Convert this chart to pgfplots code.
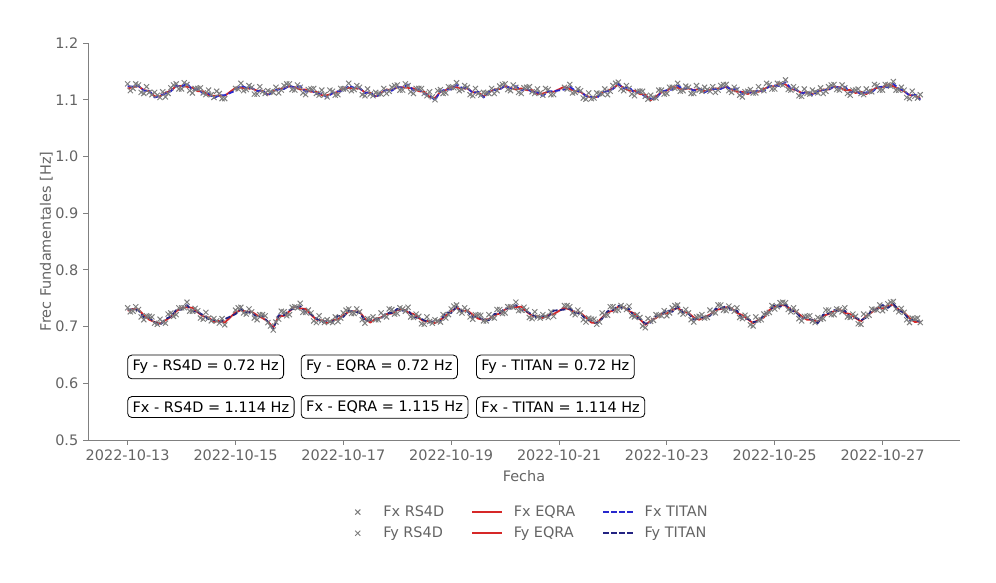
\documentclass[border=0pt]{standalone}
\usepackage{fontspec}
\setmainfont{DejaVu Sans}
\usepackage{pgfplots}
\pgfplotsset{compat=1.18}

\definecolor{txtgray}{RGB}{100,100,100}
\definecolor{spinegray}{RGB}{128,128,128}
\definecolor{markgray}{RGB}{125,125,125}
\definecolor{eqrared}{RGB}{214,40,40}
\definecolor{titanx}{RGB}{40,40,205}
\definecolor{titany}{RGB}{35,35,130}

\pgfplotsset{
  rs4d/.style={only marks, mark=x, mark size=2.6pt, color=markgray, mark options={line width=0.7pt},
    legend image code/.code={\path[draw=none,fill=none] (0pt,-2pt) rectangle (21.6pt,2pt);
      \draw[mark repeat=2,mark phase=2,##1] plot coordinates {(0pt,0pt)(10.8pt,0pt)(21.6pt,0pt)};}},
  eqra/.style={no markers, color=eqrared, line width=1.3pt, line join=round},
  titan/.style={no markers, color=#1, line width=1.3pt, dash pattern=on 4pt off 1.7pt, line join=round},
}
\tikzset{
  statbox/.style={draw=black, fill=white, rounded corners=3pt, inner sep=3.6pt, anchor=west, text=black, line width=0.6pt},
}

\begin{document}
\begin{tikzpicture}[font=\fontsize{10.4}{12.5}\selectfont]
\useasboundingbox (-63.4pt,-103pt) rectangle (653.8pt,316.8pt);
\begin{axis}[
  at={(0,0)}, anchor=south west,
  scale only axis,
  width=627.8pt, height=285.8pt,
  xmin=-0.735, xmax=15.435,
  ymin=0.5, ymax=1.2,
  axis x line*=bottom, axis y line*=left,
  axis line style={spinegray, line width=0.6pt},
  tick style={spinegray, line width=0.6pt},
  tick align=outside, major tick length=3.5pt,
  xtick={0,2,4,6,8,10,12,14},
  xticklabels={2022-10-13,2022-10-15,2022-10-17,2022-10-19,2022-10-21,2022-10-23,2022-10-25,2022-10-27},
  ytick={0.5,0.6,0.7,0.8,0.9,1.0,1.1,1.2},
  yticklabel style={/pgf/number format/.cd, fixed, fixed zerofill, precision=1, assume math mode=true},
  ticklabel style={text=txtgray},
  xlabel={Fecha}, ylabel={Frec Fundamentales [Hz]},
  label style={text=txtgray},
  ylabel style={yshift=-5pt},
  legend columns=3,
  legend style={at={(0.503,-0.151)}, anchor=north, draw=none, fill=none, text=txtgray,
    /tikz/every even column/.append style={column sep=17.6pt},
    /tikz/every odd column/.append style={column sep=5.6pt},
    row sep=2pt},
  legend cell align=left,
  legend image code/.code={\draw[mark repeat=2,mark phase=2,#1] plot coordinates {(0pt,0pt)(10.8pt,0pt)(21.6pt,0pt)};},
  clip=false,
]

% ---------- Fx ----------
\addplot[rs4d] coordinates {
(0,1.128)(0.05,1.116)(0.1,1.120)(0.15,1.128)(0.2,1.126)(0.25,1.113)(0.3,1.111)(0.35,1.123)(0.4,1.113)(0.45,1.109)
(0.5,1.113)(0.55,1.108)(0.6,1.104)(0.65,1.114)(0.7,1.105)(0.75,1.111)(0.8,1.121)(0.85,1.126)(0.9,1.128)(0.95,1.119)
(1.0,1.119)(1.05,1.130)(1.1,1.127)(1.15,1.116)(1.2,1.112)(1.25,1.120)(1.3,1.120)(1.35,1.121)(1.4,1.112)(1.45,1.109)
(1.5,1.117)(1.55,1.109)(1.6,1.104)(1.65,1.115)(1.7,1.111)(1.75,1.102)(1.8,1.102)
(2.0,1.120)(2.05,1.119)(2.1,1.129)(2.15,1.116)(2.2,1.118)(2.25,1.125)(2.3,1.122)(2.35,1.110)(2.4,1.110)(2.45,1.123)
(2.5,1.114)(2.55,1.111)(2.6,1.116)(2.65,1.114)(2.7,1.113)(2.75,1.122)(2.8,1.112)(2.85,1.117)(2.9,1.125)(2.95,1.128)
(3.0,1.128)(3.05,1.118)(3.1,1.117)(3.15,1.126)(3.2,1.122)(3.25,1.112)(3.3,1.109)(3.35,1.118)(3.4,1.119)(3.45,1.120)
(3.5,1.111)(3.55,1.108)(3.6,1.117)(3.65,1.109)(3.7,1.105)(3.75,1.117)(3.8,1.115)(3.85,1.108)(3.9,1.109)(3.95,1.120)
(4.0,1.119)(4.05,1.119)(4.1,1.129)(4.15,1.116)(4.2,1.118)(4.25,1.125)(4.3,1.122)(4.35,1.109)(4.4,1.107)(4.45,1.119)
(4.5,1.110)(4.55,1.107)(4.6,1.113)(4.65,1.111)(4.7,1.110)(4.75,1.120)(4.8,1.111)(4.85,1.115)(4.9,1.122)(4.95,1.125)
(5.0,1.126)(5.05,1.117)(5.1,1.117)(5.15,1.128)(5.2,1.125)(5.25,1.114)(5.3,1.111)(5.35,1.120)(5.4,1.120)(5.45,1.120)
(5.5,1.111)(5.55,1.107)(5.6,1.114)(5.65,1.105)(5.7,1.100)(5.75,1.116)(5.8,1.118)(5.85,1.111)(5.9,1.112)(5.95,1.123)
(6.0,1.122)(6.05,1.121)(6.1,1.130)(6.15,1.116)(6.2,1.118)(6.25,1.125)(6.3,1.122)(6.35,1.109)(6.4,1.107)(6.45,1.120)
(6.5,1.111)(6.55,1.108)(6.6,1.113)(6.65,1.112)(6.7,1.111)(6.75,1.120)(6.8,1.111)(6.85,1.116)(6.9,1.124)(6.95,1.127)
(7.0,1.128)(7.05,1.118)(7.1,1.116)(7.15,1.126)(7.2,1.122)(7.25,1.113)(7.3,1.111)(7.35,1.121)(7.4,1.122)(7.45,1.123)
(7.5,1.114)(7.55,1.111)(7.6,1.119)(7.65,1.112)(7.7,1.108)(7.75,1.120)(7.8,1.118)(7.85,1.109)(7.9,1.109)
(8.1,1.122)(8.15,1.119)(8.2,1.127)(8.25,1.112)(8.3,1.113)(8.35,1.119)(8.4,1.116)(8.45,1.103)(8.5,1.101)(8.55,1.112)
(8.6,1.102)(8.65,1.103)(8.7,1.112)(8.75,1.111)(8.8,1.110)(8.85,1.119)(8.9,1.109)(8.95,1.115)(9.0,1.125)(9.05,1.129)
(9.1,1.131)(9.15,1.119)(9.2,1.116)(9.25,1.125)(9.3,1.120)(9.35,1.110)(9.4,1.107)(9.45,1.115)(9.5,1.115)(9.55,1.115)
(9.6,1.106)(9.65,1.101)(9.7,1.108)(9.75,1.104)(9.8,1.103)(9.85,1.117)(9.9,1.117)(9.95,1.110)(10.0,1.111)(10.05,1.122)
(10.1,1.122)(10.15,1.120)(10.2,1.129)(10.25,1.115)(10.3,1.116)(10.35,1.124)(10.4,1.122)(10.45,1.111)(10.5,1.111)(10.55,1.125)
(10.6,1.117)(10.65,1.115)(10.7,1.122)(10.75,1.118)(10.8,1.115)(10.85,1.123)(10.9,1.113)(10.95,1.117)(11.0,1.125)(11.05,1.127)
(11.1,1.127)(11.15,1.116)(11.2,1.113)(11.25,1.122)(11.3,1.118)(11.35,1.108)(11.4,1.105)(11.45,1.114)(11.5,1.115)(11.55,1.118)
(11.6,1.112)(11.65,1.112)(11.7,1.123)(11.75,1.118)(11.8,1.116)(11.85,1.129)(11.9,1.127)(11.95,1.119)(12.0,1.119)(12.05,1.129)
(12.1,1.128)(12.15,1.126)(12.2,1.135)(12.25,1.118)(12.3,1.117)(12.35,1.123)(12.4,1.119)(12.45,1.107)(12.5,1.106)(12.55,1.119)
(12.6,1.111)(12.65,1.110)(12.7,1.117)(12.75,1.114)(12.8,1.112)(12.85,1.121)(12.9,1.111)(12.95,1.115)(13.0,1.123)(13.05,1.126)
(13.1,1.127)(13.15,1.118)(13.2,1.117)(13.25,1.126)(13.3,1.121)(13.35,1.111)(13.4,1.108)(13.45,1.117)(13.5,1.117)(13.55,1.119)
(13.6,1.111)(13.65,1.109)(13.7,1.119)(13.75,1.115)(13.8,1.114)(13.85,1.127)(13.9,1.125)(13.95,1.117)(14.0,1.117)(14.05,1.127)
(14.1,1.126)(14.15,1.124)(14.2,1.132)(14.25,1.117)(14.3,1.117)(14.35,1.122)(14.4,1.117)(14.45,1.104)(14.5,1.102)(14.55,1.115)
(14.6,1.106)(14.65,1.103)(14.7,1.109)
};
\addlegendentry{Fx RS4D}

\addplot[eqra] coordinates {
(0,1.120)(0.1,1.122)(0.2,1.124)(0.3,1.117)(0.4,1.115)(0.5,1.106)(0.6,1.106)(0.7,1.112)(0.8,1.116)(0.9,1.124)
(1.0,1.124)(1.1,1.123)(1.2,1.121)(1.3,1.115)(1.4,1.115)(1.5,1.108)(1.6,1.107)(1.7,1.107)(1.8,1.107)
(2.0,1.121)(2.1,1.121)(2.2,1.120)(2.3,1.120)(2.4,1.116)(2.5,1.116)(2.6,1.109)(2.7,1.115)(2.8,1.119)(2.9,1.120)
(3.0,1.124)(3.1,1.122)(3.2,1.118)(3.3,1.118)(3.4,1.114)(3.5,1.114)(3.6,1.108)(3.7,1.108)(3.8,1.111)(3.9,1.114)
(4.0,1.120)(4.1,1.121)(4.2,1.120)(4.3,1.120)(4.4,1.113)(4.5,1.112)(4.6,1.106)(4.7,1.112)(4.8,1.118)(4.9,1.117)
(5.0,1.122)(5.1,1.122)(5.2,1.121)(5.3,1.120)(5.4,1.115)(5.5,1.114)(5.6,1.105)(5.7,1.103)(5.8,1.114)(5.9,1.117)
(6.0,1.123)(6.1,1.122)(6.2,1.120)(6.3,1.120)(6.4,1.113)(6.5,1.113)(6.6,1.106)(6.7,1.113)(6.8,1.118)(6.9,1.119)
(7.0,1.124)(7.1,1.121)(7.2,1.118)(7.3,1.120)(7.4,1.117)(7.5,1.117)(7.6,1.110)(7.7,1.111)(7.8,1.114)(7.9,1.114)
(8.1,1.123)(8.2,1.119)(8.3,1.115)(8.4,1.114)(8.5,1.107)(8.6,1.104)(8.7,1.105)(8.8,1.112)(8.9,1.116)
(9.0,1.120)(9.1,1.127)(9.2,1.121)(9.3,1.116)(9.4,1.116)(9.5,1.110)(9.6,1.109)(9.7,1.099)(9.8,1.106)(9.9,1.113)
(10.0,1.116)(10.1,1.123)(10.2,1.121)(10.3,1.118)(10.4,1.120)(10.5,1.117)(10.6,1.119)(10.7,1.115)(10.8,1.117)(10.9,1.120)
(11.0,1.120)(11.1,1.123)(11.2,1.118)(11.3,1.114)(11.4,1.114)(11.5,1.110)(11.6,1.115)(11.7,1.114)(11.8,1.119)(11.9,1.123)
(12.0,1.124)(12.1,1.129)(12.2,1.127)(12.3,1.119)(12.4,1.117)(12.5,1.112)(12.6,1.113)(12.7,1.110)(12.8,1.114)(12.9,1.118)
(13.0,1.118)(13.1,1.123)(13.2,1.122)(13.3,1.117)(13.4,1.117)(13.5,1.112)(13.6,1.114)(13.7,1.110)(13.8,1.117)(13.9,1.121)
(14.0,1.122)(14.1,1.127)(14.2,1.124)(14.3,1.119)(14.4,1.115)(14.5,1.108)(14.6,1.108)(14.7,1.102)
};
\addlegendentry{Fx EQRA}

\addplot[titan=titanx] coordinates {
(0,1.124)(0.1,1.123)(0.2,1.125)(0.3,1.116)(0.4,1.116)(0.5,1.104)(0.6,1.107)(0.7,1.111)(0.8,1.115)(0.9,1.125)
(1.0,1.123)(1.1,1.129)(1.2,1.117)(1.3,1.119)(1.4,1.111)(1.5,1.111)(1.6,1.103)(1.7,1.108)(1.8,1.108)
(2.0,1.116)(2.1,1.125)(2.2,1.121)(2.3,1.121)(2.4,1.115)(2.5,1.117)(2.6,1.107)(2.7,1.116)(2.8,1.118)(2.9,1.119)
(3.0,1.125)(3.1,1.121)(3.2,1.124)(3.3,1.114)(3.4,1.118)(3.5,1.110)(3.6,1.111)(3.7,1.104)(3.8,1.112)(3.9,1.115)
(4.0,1.115)(4.1,1.125)(4.2,1.121)(4.3,1.121)(4.4,1.112)(4.5,1.113)(4.6,1.104)(4.7,1.113)(4.8,1.117)(4.9,1.116)
(5.0,1.123)(5.1,1.121)(5.2,1.127)(5.3,1.116)(5.4,1.119)(5.5,1.110)(5.6,1.108)(5.7,1.099)(5.8,1.115)(5.9,1.118)
(6.0,1.118)(6.1,1.126)(6.2,1.121)(6.3,1.121)(6.4,1.112)(6.5,1.114)(6.6,1.104)(6.7,1.114)(6.8,1.117)(6.9,1.118)
(7.0,1.125)(7.1,1.120)(7.2,1.124)(7.3,1.116)(7.4,1.121)(7.5,1.113)(7.6,1.113)(7.7,1.107)(7.8,1.115)(7.9,1.115)
(8.1,1.118)(8.2,1.123)(8.3,1.116)(8.4,1.115)(8.5,1.106)(8.6,1.105)(8.7,1.103)(8.8,1.113)(8.9,1.115)
(9.0,1.119)(9.1,1.128)(9.2,1.120)(9.3,1.122)(9.4,1.112)(9.5,1.114)(9.6,1.105)(9.7,1.102)(9.8,1.102)(9.9,1.114)
(10.0,1.117)(10.1,1.118)(10.2,1.125)(10.3,1.119)(10.4,1.121)(10.5,1.116)(10.6,1.120)(10.7,1.113)(10.8,1.118)(10.9,1.119)
(11.0,1.119)(11.1,1.124)(11.2,1.117)(11.3,1.120)(11.4,1.110)(11.5,1.114)(11.6,1.111)(11.7,1.117)(11.8,1.115)(11.9,1.124)
(12.0,1.125)(12.1,1.124)(12.2,1.131)(12.3,1.120)(12.4,1.118)(12.5,1.111)(12.6,1.114)(12.7,1.108)(12.8,1.115)(12.9,1.117)
(13.0,1.117)(13.1,1.124)(13.2,1.121)(13.3,1.123)(13.4,1.113)(13.5,1.116)(13.6,1.110)(13.7,1.113)(13.8,1.113)(13.9,1.122)
(14.0,1.123)(14.1,1.122)(14.2,1.128)(14.3,1.120)(14.4,1.116)(14.5,1.107)(14.6,1.109)(14.7,1.100)
};
\addlegendentry{Fx TITAN}

% ---------- Fy ----------
\addplot[rs4d] coordinates {
(0,0.733)(0.05,0.726)(0.1,0.727)(0.15,0.735)(0.2,0.730)(0.25,0.717)(0.3,0.712)(0.35,0.719)(0.4,0.718)(0.45,0.717)
(0.5,0.706)(0.55,0.704)(0.6,0.713)(0.65,0.708)(0.7,0.706)(0.75,0.722)(0.8,0.724)(0.85,0.718)(0.9,0.721)(0.95,0.733)
(1.0,0.733)(1.05,0.733)(1.1,0.743)(1.15,0.727)(1.2,0.727)(1.25,0.732)(1.3,0.728)(1.35,0.715)(1.4,0.713)(1.45,0.725)
(1.5,0.715)(1.55,0.710)(1.6,0.714)(1.65,0.710)(1.7,0.706)(1.75,0.714)(1.8,0.703)
(2.0,0.729)(2.05,0.733)(2.1,0.734)(2.15,0.724)(2.2,0.722)(2.25,0.731)(2.3,0.726)(2.35,0.715)(2.4,0.712)(2.45,0.721)
(2.5,0.721)(2.55,0.719)(2.6,0.707)(2.65,0.701)(2.7,0.694)(2.75,0.708)(2.8,0.713)(2.85,0.727)(2.9,0.726)(2.95,0.719)
(3.0,0.721)(3.05,0.734)(3.1,0.735)(3.15,0.733)(3.2,0.741)(3.25,0.725)(3.3,0.725)(3.35,0.729)(3.4,0.724)(3.45,0.710)
(3.5,0.707)(3.55,0.719)(3.6,0.710)(3.65,0.707)(3.7,0.712)(3.75,0.709)(3.8,0.707)(3.85,0.717)(3.9,0.709)(3.95,0.715)
(4.0,0.724)(4.05,0.729)(4.1,0.731)(4.15,0.723)(4.2,0.723)(4.25,0.731)(4.3,0.726)(4.35,0.712)(4.4,0.706)(4.45,0.714)
(4.5,0.713)(4.55,0.717)(4.6,0.712)(4.65,0.712)(4.7,0.724)(4.75,0.719)(4.8,0.717)(4.85,0.731)(4.9,0.730)(4.95,0.722)
(5.0,0.723)(5.05,0.733)(5.1,0.731)(5.15,0.727)(5.2,0.734)(5.25,0.717)(5.3,0.716)(5.35,0.722)(5.4,0.718)(5.45,0.705)
(5.5,0.704)(5.55,0.717)(5.6,0.709)(5.65,0.706)(5.7,0.712)(5.75,0.710)(5.8,0.708)(5.85,0.721)(5.9,0.715)(5.95,0.721)
(6.0,0.731)(6.05,0.736)(6.1,0.738)(6.15,0.727)(6.2,0.724)(6.25,0.733)(6.3,0.728)(6.35,0.717)(6.4,0.713)(6.45,0.721)
(6.5,0.720)(6.55,0.720)(6.6,0.710)(6.65,0.710)(6.7,0.721)(6.75,0.716)(6.8,0.715)(6.85,0.730)(6.9,0.730)(6.95,0.723)
(7.0,0.724)(7.05,0.735)(7.1,0.735)(7.15,0.734)(7.2,0.743)(7.25,0.728)(7.3,0.729)(7.35,0.734)(7.4,0.729)(7.45,0.716)
(7.5,0.714)(7.55,0.726)(7.6,0.717)(7.65,0.715)(7.7,0.721)(7.75,0.718)(7.8,0.716)(7.85,0.726)(7.9,0.718)
(8.1,0.737)(8.15,0.737)(8.2,0.735)(8.25,0.724)(8.3,0.721)(8.35,0.729)(8.4,0.724)(8.45,0.712)(8.5,0.708)(8.55,0.715)
(8.6,0.713)(8.65,0.713)(8.7,0.704)(8.75,0.708)(8.8,0.724)(8.85,0.720)(8.9,0.720)(8.95,0.735)(9.0,0.735)(9.05,0.728)
(9.1,0.729)(9.15,0.737)(9.2,0.734)(9.25,0.730)(9.3,0.736)(9.35,0.719)(9.4,0.717)(9.45,0.721)(9.5,0.716)(9.55,0.701)
(9.6,0.698)(9.65,0.714)(9.7,0.709)(9.75,0.711)(9.8,0.721)(9.85,0.720)(9.9,0.719)(9.95,0.728)(10.0,0.719)(10.05,0.724)
(10.1,0.733)(10.15,0.737)(10.2,0.738)(10.25,0.726)(10.3,0.722)(10.35,0.730)(10.4,0.724)(10.45,0.712)(10.5,0.708)(10.55,0.717)
(10.6,0.718)(10.65,0.721)(10.7,0.715)(10.75,0.716)(10.8,0.729)(10.85,0.725)(10.9,0.724)(10.95,0.738)(11.0,0.738)(11.05,0.729)
(11.1,0.728)(11.15,0.736)(11.2,0.732)(11.25,0.727)(11.3,0.733)(11.35,0.716)(11.4,0.714)(11.45,0.720)(11.5,0.716)(11.55,0.703)
(11.6,0.701)(11.65,0.717)(11.7,0.711)(11.75,0.712)(11.8,0.722)(11.85,0.723)(11.9,0.725)(11.95,0.737)(12.0,0.731)(12.05,0.735)
(12.1,0.742)(12.15,0.743)(12.2,0.742)(12.25,0.730)(12.3,0.726)(12.35,0.733)(12.4,0.726)(12.45,0.714)(12.5,0.710)(12.55,0.718)
(12.6,0.718)(12.65,0.719)(12.7,0.710)(12.75,0.707)(12.8,0.716)(12.85,0.713)(12.9,0.714)(12.95,0.729)(13.0,0.729)(13.05,0.721)
(13.1,0.721)(13.15,0.731)(13.2,0.730)(13.25,0.726)(13.3,0.733)(13.35,0.717)(13.4,0.716)(13.45,0.722)(13.5,0.718)(13.55,0.705)
(13.6,0.704)(13.65,0.722)(13.7,0.718)(13.75,0.720)(13.8,0.731)(13.85,0.730)(13.9,0.729)(13.95,0.738)(14.0,0.728)(14.05,0.732)
(14.1,0.740)(14.15,0.743)(14.2,0.744)(14.25,0.731)(14.3,0.726)(14.35,0.732)(14.4,0.725)(14.45,0.712)(14.5,0.707)(14.55,0.715)
(14.6,0.714)(14.65,0.715)(14.7,0.707)
};
\addlegendentry{Fy RS4D}

\addplot[eqra] coordinates {
(0,0.728)(0.1,0.731)(0.2,0.730)(0.3,0.720)(0.4,0.712)(0.5,0.708)(0.6,0.705)(0.7,0.711)(0.8,0.717)(0.9,0.727)
(1.0,0.733)(1.1,0.734)(1.2,0.733)(1.3,0.725)(1.4,0.718)(1.5,0.716)(1.6,0.708)(1.7,0.710)(1.8,0.707)
(2.0,0.725)(2.1,0.729)(2.2,0.726)(2.3,0.726)(2.4,0.720)(2.5,0.715)(2.6,0.709)(2.7,0.698)(2.8,0.718)(2.9,0.719)
(3.0,0.727)(3.1,0.735)(3.2,0.732)(3.3,0.731)(3.4,0.721)(3.5,0.712)(3.6,0.711)(3.7,0.706)(3.8,0.711)(3.9,0.713)
(4.0,0.720)(4.1,0.726)(4.2,0.727)(4.3,0.726)(4.4,0.714)(4.5,0.707)(4.6,0.714)(4.7,0.716)(4.8,0.722)(4.9,0.723)
(5.0,0.729)(5.1,0.731)(5.2,0.725)(5.3,0.722)(5.4,0.715)(5.5,0.709)(5.6,0.710)(5.7,0.706)(5.8,0.712)(5.9,0.719)
(6.0,0.727)(6.1,0.733)(6.2,0.728)(6.3,0.728)(6.4,0.721)(6.5,0.714)(6.6,0.712)(6.7,0.713)(6.8,0.720)(6.9,0.723)
(7.0,0.730)(7.1,0.735)(7.2,0.734)(7.3,0.735)(7.4,0.726)(7.5,0.719)(7.6,0.718)(7.7,0.715)(7.8,0.720)(7.9,0.722)
(8.1,0.733)(8.2,0.730)(8.3,0.725)(8.4,0.724)(8.5,0.716)(8.6,0.707)(8.7,0.706)(8.8,0.716)(8.9,0.725)
(9.0,0.728)(9.1,0.735)(9.2,0.734)(9.3,0.727)(9.4,0.723)(9.5,0.713)(9.6,0.703)(9.7,0.710)(9.8,0.715)(9.9,0.723)
(10.0,0.723)(10.1,0.729)(10.2,0.733)(10.3,0.726)(10.4,0.724)(10.5,0.716)(10.6,0.712)(10.7,0.717)(10.8,0.721)(10.9,0.729)
(11.0,0.731)(11.1,0.734)(11.2,0.732)(11.3,0.724)(11.4,0.720)(11.5,0.713)(11.6,0.706)(11.7,0.712)(11.8,0.716)(11.9,0.729)
(12.0,0.735)(12.1,0.738)(12.2,0.737)(12.3,0.730)(12.4,0.726)(12.5,0.718)(12.6,0.712)(12.7,0.712)(12.8,0.708)(12.9,0.719)
(13.0,0.722)(13.1,0.727)(13.2,0.730)(13.3,0.724)(13.4,0.722)(13.5,0.715)(13.6,0.709)(13.7,0.719)(13.8,0.725)(13.9,0.733)
(14.0,0.732)(14.1,0.736)(14.2,0.739)(14.3,0.730)(14.4,0.725)(14.5,0.715)(14.6,0.708)(14.7,0.709)
};
\addlegendentry{Fy EQRA}

\addplot[titan=titany] coordinates {
(0,0.730)(0.1,0.730)(0.2,0.729)(0.3,0.716)(0.4,0.716)(0.5,0.707)(0.6,0.703)(0.7,0.713)(0.8,0.718)(0.9,0.729)
(1.0,0.730)(1.1,0.738)(1.2,0.727)(1.3,0.726)(1.4,0.720)(1.5,0.713)(1.6,0.712)(1.7,0.707)(1.8,0.713)
(2.0,0.722)(2.1,0.731)(2.2,0.725)(2.3,0.725)(2.4,0.716)(2.5,0.719)(2.6,0.708)(2.7,0.696)(2.8,0.720)(2.9,0.720)
(3.0,0.729)(3.1,0.732)(3.2,0.736)(3.3,0.725)(3.4,0.722)(3.5,0.714)(3.6,0.708)(3.7,0.710)(3.8,0.708)(3.9,0.719)
(4.0,0.717)(4.1,0.728)(4.2,0.726)(4.3,0.725)(4.4,0.710)(4.5,0.711)(4.6,0.713)(4.7,0.714)(4.8,0.724)(4.9,0.724)
(5.0,0.731)(5.1,0.728)(5.2,0.729)(5.3,0.716)(5.4,0.716)(5.5,0.711)(5.6,0.707)(5.7,0.710)(5.8,0.709)(5.9,0.725)
(6.0,0.724)(6.1,0.735)(6.2,0.727)(6.3,0.727)(6.4,0.717)(6.5,0.718)(6.6,0.711)(6.7,0.711)(6.8,0.722)(6.9,0.724)
(7.0,0.732)(7.1,0.732)(7.2,0.738)(7.3,0.729)(7.4,0.727)(7.5,0.721)(7.6,0.715)(7.7,0.719)(7.8,0.717)(7.9,0.728)
(8.1,0.730)(8.2,0.732)(8.3,0.724)(8.4,0.723)(8.5,0.712)(8.6,0.711)(8.7,0.705)(8.8,0.714)(8.9,0.727)
(9.0,0.729)(9.1,0.737)(9.2,0.731)(9.3,0.731)(9.4,0.717)(9.5,0.714)(9.6,0.705)(9.7,0.707)(9.8,0.719)(9.9,0.720)
(10.0,0.729)(10.1,0.726)(10.2,0.735)(10.3,0.725)(10.4,0.723)(10.5,0.712)(10.6,0.716)(10.7,0.716)(10.8,0.719)(10.9,0.731)
(11.0,0.732)(11.1,0.736)(11.2,0.729)(11.3,0.728)(11.4,0.714)(11.5,0.714)(11.6,0.708)(11.7,0.709)(11.8,0.720)(11.9,0.726)
(12.0,0.739)(12.1,0.735)(12.2,0.739)(12.3,0.729)(12.4,0.725)(12.5,0.714)(12.6,0.716)(12.7,0.711)(12.8,0.706)(12.9,0.721)
(13.0,0.723)(13.1,0.729)(13.2,0.727)(13.3,0.728)(13.4,0.716)(13.5,0.716)(13.6,0.711)(13.7,0.716)(13.8,0.729)(13.9,0.730)
(14.0,0.738)(14.1,0.733)(14.2,0.740)(14.3,0.729)(14.4,0.724)(14.5,0.711)(14.6,0.712)(14.7,0.708)
};
\addlegendentry{Fy TITAN}

\node[statbox] at (axis description cs:0.045,0.184) {Fy - RS4D = 0.72 Hz};
\node[statbox] at (axis description cs:0.244,0.184) {Fy - EQRA = 0.72 Hz};
\node[statbox] at (axis description cs:0.445,0.184) {Fy - TITAN = 0.72 Hz};
\node[statbox] at (axis description cs:0.045,0.083) {Fx - RS4D = 1.114 Hz};
\node[statbox] at (axis description cs:0.244,0.083) {Fx - EQRA = 1.115 Hz};
\node[statbox] at (axis description cs:0.445,0.083) {Fx - TITAN = 1.114 Hz};
\end{axis}
\end{tikzpicture}
\end{document}
